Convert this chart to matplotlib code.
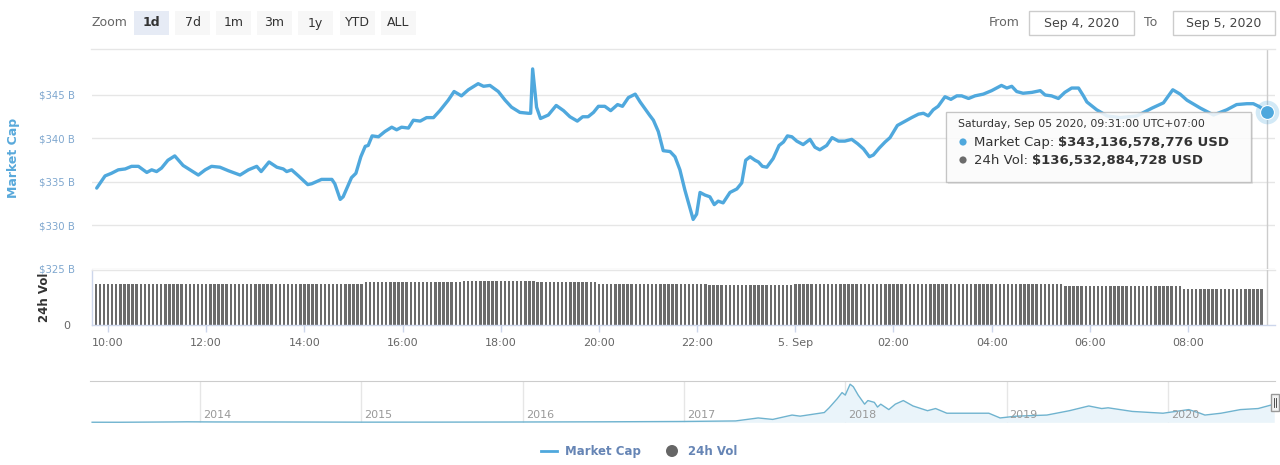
"""
Recria o gráfico 1d de market cap / 24h vol (CoinMarketCap, 04-05/09/2020).
Saída: out.png
"""

from pathlib import Path

import matplotlib

matplotlib.use("Agg")
import matplotlib.pyplot as plt
import numpy as np
from matplotlib.lines import Line2D
from matplotlib.patches import Ellipse, Rectangle

OUTPUT_PLOT = Path("out.png")
FIG_W, FIG_H, FIG_DPI = 1280, 465, 100

# Market cap: horas desde 04/09 00:00 (UTC+7) e valor em bilhões de USD
CAP_HOURS = [
    9.77, 9.94, 10.07, 10.21, 10.35, 10.48, 10.62, 10.79, 10.89, 10.99,
    11.09, 11.22, 11.36, 11.53, 11.67, 11.84, 11.98, 12.11, 12.28, 12.45,
    12.69, 12.86, 13.03, 13.12, 13.28, 13.44, 13.57, 13.64, 13.74, 13.88,
    14.07, 14.15, 14.35, 14.56, 14.62, 14.73, 14.79, 14.96, 15.05, 15.15,
    15.24, 15.30, 15.38, 15.51, 15.64, 15.78, 15.88, 15.98, 16.12, 16.22,
    16.36, 16.49, 16.63, 16.76, 16.93, 17.05, 17.20, 17.34, 17.54, 17.65,
    17.78, 17.95, 18.09, 18.22, 18.39, 18.56, 18.61, 18.65, 18.73, 18.81,
    18.97, 19.13, 19.28, 19.41, 19.56, 19.67, 19.78, 19.89, 19.99, 20.12,
    20.24, 20.38, 20.48, 20.60, 20.74, 20.84, 20.94, 21.03, 21.11, 21.21,
    21.31, 21.45, 21.55, 21.65, 21.75, 21.86, 21.92, 21.99, 22.06, 22.16,
    22.26, 22.35, 22.43, 22.53, 22.67, 22.81, 22.91, 22.99, 23.08, 23.18,
    23.25, 23.33, 23.42, 23.55, 23.67, 23.76, 23.84, 23.93, 24.03, 24.16,
    24.30, 24.40, 24.50, 24.64, 24.75, 24.88, 25.01, 25.15, 25.27, 25.39,
    25.51, 25.59, 25.71, 25.83, 25.93, 26.08, 26.24, 26.37, 26.51, 26.61,
    26.71, 26.81, 26.91, 27.05, 27.17, 27.29, 27.39, 27.53, 27.66, 27.83,
    28.00, 28.20, 28.31, 28.41, 28.51, 28.64, 28.82, 28.99, 29.09, 29.22,
    29.36, 29.49, 29.63, 29.77, 29.87, 29.94, 30.14, 30.35, 30.62, 30.96,
    31.27, 31.50, 31.69, 31.84, 31.98, 32.25, 32.52, 32.79, 32.99, 33.20,
    33.33, 33.44, 33.61,
]
CAP_VALUES = [
    334.3, 335.7, 336.0, 336.4, 336.5, 336.8, 336.8, 336.1, 336.4, 336.2,
    336.6, 337.5, 338.0, 336.9, 336.4, 335.8, 336.4, 336.8, 336.7, 336.3,
    335.8, 336.4, 336.8, 336.2, 337.3, 336.7, 336.5, 336.2, 336.4, 335.7,
    334.7, 334.8, 335.3, 335.3, 334.8, 333.0, 333.3, 335.5, 336.0, 337.9,
    339.1, 339.2, 340.3, 340.2, 340.8, 341.3, 341.0, 341.3, 341.2, 342.1,
    342.0, 342.4, 342.4, 343.2, 344.4, 345.4, 344.9, 345.6, 346.3, 346.0,
    346.1, 345.4, 344.4, 343.6, 343.0, 342.9, 342.9, 348.0, 343.6, 342.3,
    342.7, 343.8, 343.2, 342.5, 342.0, 342.5, 342.5, 343.0, 343.7, 343.7,
    343.2, 343.9, 343.7, 344.7, 345.1, 344.2, 343.4, 342.7, 342.1, 340.8,
    338.6, 338.5, 337.9, 336.4, 334.1, 331.9, 330.7, 331.3, 333.8, 333.5,
    333.3, 332.4, 332.8, 332.6, 333.8, 334.2, 334.9, 337.5, 337.9, 337.5,
    337.3, 336.8, 336.7, 337.7, 339.2, 339.6, 340.3, 340.2, 339.7, 339.3,
    339.9, 339.0, 338.7, 339.2, 340.1, 339.7, 339.7, 339.9, 339.4, 338.8,
    337.9, 338.1, 338.9, 339.6, 340.1, 341.5, 342.0, 342.4, 342.8, 342.9,
    342.6, 343.3, 343.7, 344.8, 344.5, 344.9, 344.9, 344.6, 344.9, 345.1,
    345.5, 346.1, 345.8, 346.0, 345.4, 345.2, 345.3, 345.5, 345.0, 344.9,
    344.6, 345.3, 345.8, 345.8, 344.9, 344.2, 343.3, 342.6, 342.4, 342.6,
    343.5, 344.1, 345.6, 345.1, 344.4, 343.5, 342.7, 343.3, 343.9, 344.0,
    344.0, 343.7, 343.1,
]

VOL_STEP_START = [9.58, 15.25, 17.17, 18.75, 20.00, 22.17, 24.00, 29.50, 31.90]
VOL_STEP_LEVEL = [155.4, 159.9, 164.8, 159.2, 153.5, 149.8, 151.7, 145.0, 136.5]
VOL_FIRST_BAR = 9 + 35 / 60
VOL_LAST_BAR = 33 + 30 / 60
VOL_BAR_STEP = 5 / 60

# Navegador: ano decimal e market cap total (bilhões USD)
NAV_YEARS = [
    2013.33, 2013.50, 2013.83, 2013.92, 2014.10, 2014.50, 2015.00, 2015.50,
    2015.92, 2016.50, 2016.98, 2017.32, 2017.46, 2017.55, 2017.67, 2017.72,
    2017.87, 2017.90, 2017.95, 2017.98, 2018.00, 2018.03, 2018.05, 2018.08,
    2018.12, 2018.14, 2018.18, 2018.20, 2018.22, 2018.27, 2018.31, 2018.36,
    2018.42, 2018.51, 2018.56, 2018.63, 2018.77, 2018.89, 2018.96, 2019.06,
    2019.25, 2019.39, 2019.51, 2019.59, 2019.63, 2019.78, 2019.97, 2020.13,
    2020.20, 2020.23, 2020.33, 2020.45, 2020.56, 2020.66,
]
NAV_CAPS = [
    1.5, 1.1, 8.0, 11.0, 8.0, 7.0, 3.5, 4.3,
    6.5, 11.0, 18.0, 30.0, 95.0, 63.0, 158.0, 134.0,
    213.0, 316.0, 514.0, 648.0, 593.0, 830.0, 775.0, 593.0,
    395.0, 474.0, 435.0, 332.0, 395.0, 277.0, 395.0, 474.0,
    356.0, 253.0, 300.0, 198.0, 198.0, 198.0, 95.0, 134.0,
    158.0, 253.0, 356.0, 300.0, 316.0, 237.0, 198.0, 277.0,
    198.0, 158.0, 198.0, 277.0, 300.0, 395.0,
]
NAV_YEAR_TICKS = [2014, 2015, 2016, 2017, 2018, 2019, 2020]

X_TICKS = [10, 12, 14, 16, 18, 20, 22, 24, 26, 28, 30, 32]
X_TICK_LABELS = ["10:00", "12:00", "14:00", "16:00", "18:00", "20:00",
                 "22:00", "5. Sep", "02:00", "04:00", "06:00", "08:00"]
CAP_TICKS = [325, 330, 335, 340, 345]

ZOOM_BUTTONS = ["1d", "7d", "1m", "3m", "1y", "YTD", "ALL"]
ZOOM_BUTTON_X = [134, 175, 216, 257, 298, 340, 381]

TOOLTIP_HEADER = "Saturday, Sep 05 2020, 09:31:00 UTC+07:00"
TOOLTIP_CAP = "$343,136,578,776 USD"
TOOLTIP_VOL = "$136,532,884,728 USD"

COLOR_LINE = "#4fa8dd"
COLOR_VOL = "#6b6b6b"
COLOR_GRID = "#e6e6e6"
COLOR_AXIS = "#ccd6eb"
COLOR_TICK_LABEL = "#666666"
COLOR_CAP_LABEL = "#7fa7cf"
COLOR_LEGEND = "#6685b5"
FONT = "DejaVu Sans"


def fx(px: float) -> float:
    return px / FIG_W


def fy(py: float) -> float:
    return 1 - py / FIG_H


def hours_from_px(px: float) -> float:
    # 10:00 em x=108, 08:00 (dia 5) em x=1188
    return 10 + (px - 108) * 22 / (1188 - 108)


def fig_rect(fig, x0, y0, x1, y1, **kw):
    rect = Rectangle((fx(x0), fy(y1)), fx(x1) - fx(x0), fy(y0) - fy(y1),
                     transform=fig.transFigure, **kw)
    fig.add_artist(rect)
    return rect


def fig_dot(fig, x, y, radius, color, zorder=1):
    dot = Ellipse((fx(x), fy(y)), 2 * radius / FIG_W, 2 * radius / FIG_H,
                  transform=fig.transFigure, facecolor=color, edgecolor="none", zorder=zorder)
    fig.add_artist(dot)


def draw_runs(fig, x_px, y_px, runs, size):
    renderer = fig.canvas.get_renderer()
    x = x_px
    for text, weight, color in runs:
        t = fig.text(fx(x), fy(y_px), text, fontsize=size, fontweight=weight,
                     color=color, va="center", ha="left", family=FONT, zorder=12)
        x += t.get_window_extent(renderer).width + 4


def draw_header(fig):
    fig.text(fx(91), fy(22), "Zoom", fontsize=9, color="#666666", va="center", family=FONT)
    for label, x0 in zip(ZOOM_BUTTONS, ZOOM_BUTTON_X):
        active = label == "1d"
        fig_rect(fig, x0, 11, x0 + 35, 35, facecolor="#e6ebf5" if active else "#f7f7f7",
                 edgecolor="none")
        fig.text(fx(x0 + 17.5), fy(23), label, fontsize=9, color="#333333",
                 fontweight="bold" if active else "normal", ha="center", va="center", family=FONT)

    fig.text(fx(989), fy(22), "From", fontsize=9, color="#666666", va="center", family=FONT)
    fig.text(fx(1144), fy(22), "To", fontsize=9, color="#666666", va="center", family=FONT)
    for (x0, x1), label in zip([(1029, 1134), (1173, 1275)], ["Sep 4, 2020", "Sep 5, 2020"]):
        fig_rect(fig, x0, 11, x1, 35, facecolor="white", edgecolor="#cccccc", linewidth=1)
        fig.text(fx((x0 + x1) / 2), fy(23), label, fontsize=9, color="#444444",
                 ha="center", va="center", family=FONT)

    fig.add_artist(Line2D([fx(91), fx(1275)], [fy(49), fy(49)], color=COLOR_GRID,
                          linewidth=1, transform=fig.transFigure))


def draw_main(fig):
    x_lim = (hours_from_px(92), hours_from_px(1275))

    ax_cap = fig.add_axes([fx(92), fy(269), fx(1275) - fx(92), fy(50) - fy(269)])
    ax_cap.plot(CAP_HOURS, CAP_VALUES, color=COLOR_LINE, linewidth=2.4,
                solid_joinstyle="round", solid_capstyle="round", zorder=3)
    ax_cap.set_xlim(*x_lim)
    ax_cap.set_ylim(325, 345 + 45 / 8.7)
    ax_cap.set_yticks(CAP_TICKS)
    ax_cap.set_yticklabels([f"${v} B" for v in CAP_TICKS], color=COLOR_CAP_LABEL,
                           fontsize=7.3, family=FONT)
    ax_cap.tick_params(axis="y", length=0, pad=12)
    ax_cap.set_xticks([])
    ax_cap.grid(axis="y", color=COLOR_GRID, linewidth=1)
    ax_cap.set_axisbelow(True)
    for spine in ax_cap.spines.values():
        spine.set_visible(False)

    # crosshair e ponto destacado no último valor
    last_h, last_v = CAP_HOURS[-1], CAP_VALUES[-1]
    ax_cap.axvline(last_h, color="#cccccc", linewidth=1, zorder=2)
    ax_cap.plot([last_h], [last_v], "o", markersize=17, color=COLOR_LINE, alpha=0.25,
                markeredgewidth=0, zorder=4, clip_on=False)
    ax_cap.plot([last_h], [last_v], "o", markersize=10, color=COLOR_LINE,
                markeredgecolor="white", markeredgewidth=0.8, zorder=5, clip_on=False)

    ax_vol = fig.add_axes([fx(92), fy(325), fx(1275) - fx(92), fy(270) - fy(325)])
    bar_hours = np.arange(VOL_FIRST_BAR, VOL_LAST_BAR + 1e-6, VOL_BAR_STEP)
    step_idx = np.searchsorted(VOL_STEP_START, bar_hours, side="right") - 1
    bar_vals = np.array(VOL_STEP_LEVEL)[np.clip(step_idx, 0, None)]
    ax_vol.bar(bar_hours, bar_vals, width=VOL_BAR_STEP * 0.6, color=COLOR_VOL,
               linewidth=0, zorder=2)
    ax_vol.axvline(last_h, color="#cccccc", linewidth=1, zorder=3)
    ax_vol.set_xlim(*x_lim)
    ax_vol.set_ylim(0, 206)
    ax_vol.set_yticks([0])
    ax_vol.set_yticklabels(["0"], color=COLOR_TICK_LABEL, fontsize=8, family=FONT)
    ax_vol.tick_params(axis="y", length=0, pad=16)
    ax_vol.set_xticks(X_TICKS)
    ax_vol.set_xticklabels(X_TICK_LABELS, color=COLOR_TICK_LABEL, fontsize=8, family=FONT)
    ax_vol.tick_params(axis="x", length=5, width=1, color=COLOR_AXIS, pad=4.5)
    for name, spine in ax_vol.spines.items():
        spine.set_visible(name in ("left", "bottom", "top"))
        spine.set_color(COLOR_AXIS if name != "top" else COLOR_GRID)
        spine.set_linewidth(1)

    fig.text(fx(14), fy(158), "Market Cap", rotation=90, fontsize=9, fontweight="bold",
             color="#59a9db", ha="center", va="center", family=FONT)
    fig.text(fx(45), fy(297), "24h Vol", rotation=90, fontsize=8.5, fontweight="bold",
             color="#333333", ha="center", va="center", family=FONT, zorder=10)


def draw_tooltip(fig):
    fig_rect(fig, 948, 114, 1253, 184, facecolor="#000000", alpha=0.08, edgecolor="none", zorder=9)
    fig_rect(fig, 946, 112, 1251, 182, facecolor="white", alpha=0.85,
             edgecolor="#bbbbbb", linewidth=1, zorder=10)
    fig.text(fx(958), fy(124), TOOLTIP_HEADER, fontsize=7.8, color="#333333",
             va="center", family=FONT, zorder=12)
    fig_dot(fig, 963, 142, 3.6, COLOR_LINE, zorder=12)
    fig_dot(fig, 963, 160, 3.6, "#6b6b6b", zorder=12)
    draw_runs(fig, 974, 142, [("Market Cap:", "normal", "#333333"),
                              (TOOLTIP_CAP, "bold", "#333333")], 9.5)
    draw_runs(fig, 974, 160, [("24h Vol:", "normal", "#333333"),
                              (TOOLTIP_VOL, "bold", "#333333")], 9.5)


def draw_navigator(fig):
    ax_nav = fig.add_axes([fx(90), fy(423), fx(1275) - fx(90), fy(381) - fy(423)])
    ax_nav.fill_between(NAV_YEARS, NAV_CAPS, 0, color="#eaf4fa", linewidth=0)
    ax_nav.plot(NAV_YEARS, NAV_CAPS, color="#6fb3cf", linewidth=1)
    x0 = 2014 - (200 - 90) / 161
    x1 = 2020 + (1275 - 1168) / 161
    ax_nav.set_xlim(x0, x1)
    ax_nav.set_ylim(-15, 900)
    for year in NAV_YEAR_TICKS:
        ax_nav.axvline(year, color=COLOR_GRID, linewidth=1, zorder=0)
        ax_nav.text(year + 3 / 161, 0.12, str(year), transform=ax_nav.get_xaxis_transform(),
                    fontsize=8, color="#999999", family=FONT)
    ax_nav.set_xticks([])
    ax_nav.set_yticks([])
    for name, spine in ax_nav.spines.items():
        spine.set_visible(name == "top")
        spine.set_color("#cccccc")

    # alça do navegador
    fig_rect(fig, 1271, 394, 1279, 411, facecolor="#f2f2f2", edgecolor="#999999",
             linewidth=1, zorder=6)
    for xl in (1274, 1276):
        fig.add_artist(Line2D([fx(xl), fx(xl)], [fy(398), fy(407)], color="#333333",
                              linewidth=0.6, transform=fig.transFigure, zorder=7))


def draw_legend(fig):
    fig.add_artist(Line2D([fx(541), fx(557)], [fy(451), fy(451)], color=COLOR_LINE,
                          linewidth=2, transform=fig.transFigure))
    fig.text(fx(565), fy(451), "Market Cap", fontsize=8.5, fontweight="bold",
             color=COLOR_LEGEND, va="center", family=FONT)
    fig_dot(fig, 672, 451, 6, "#666666")
    fig.text(fx(688), fy(451), "24h Vol", fontsize=8.5, fontweight="bold",
             color=COLOR_LEGEND, va="center", family=FONT)


def main() -> None:
    fig = plt.figure(figsize=(FIG_W / FIG_DPI, FIG_H / FIG_DPI), dpi=FIG_DPI)
    fig.patch.set_facecolor("white")
    draw_header(fig)
    draw_main(fig)
    draw_tooltip(fig)
    draw_navigator(fig)
    draw_legend(fig)
    fig.savefig(OUTPUT_PLOT, dpi=FIG_DPI, facecolor="white")
    plt.close(fig)
    print(f"Gráfico salvo: {OUTPUT_PLOT}")


if __name__ == "__main__":
    main()
